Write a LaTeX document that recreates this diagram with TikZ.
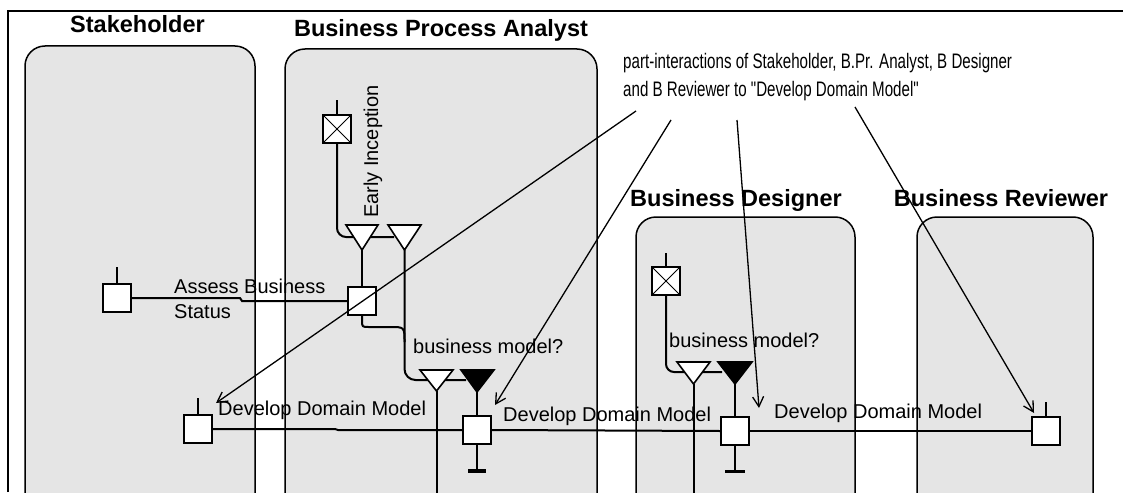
\documentclass[tikz,border=0pt]{standalone}
\usepackage{fontspec}
\setmainfont{Liberation Sans}
\newfontfamily\narrowfont[FakeStretch=0.72]{Liberation Sans}
\usetikzlibrary{arrows.meta}
\begin{document}
\begin{tikzpicture}[x=1pt,y=-1pt,
  lane/.style={draw=black, line width=1.5pt, fill=black!10, rounded corners=20pt},
  lanetitle/.style={font=\fontsize{23.5}{28}\selectfont\bfseries, anchor=base, inner sep=0pt},
  lbl/.style={font=\fontsize{20}{24}\selectfont, anchor=base west, inner sep=0pt},
  notetext/.style={font=\narrowfont\fontsize{21}{26}\selectfont, anchor=base west, inner sep=0pt},
  act/.style={draw, fill=white, line width=1.8pt, minimum size=28pt, inner sep=0pt},
  xact/.style={act, path picture={\draw[line width=1pt]
      (path picture bounding box.south west) -- (path picture bounding box.north east)
      (path picture bounding box.north west) -- (path picture bounding box.south east);}},
  flow/.style={line width=2pt},
  ticker/.style={line width=1.3pt},
  opentri/.style={draw, fill=white, line width=1.6pt, line join=miter},
  filltri/.style={draw, fill=black, line width=1.6pt, line join=miter},
  endbar/.style={line width=3.5pt},
  annot/.style={line width=1.3pt, -{Straight Barb[length=10pt,width=11pt]}}
]
\useasboundingbox (0,0) rectangle (1123,492);
\fill[white] (0,0) rectangle (1123,492);
% frame
\draw[line width=1.5pt] (8,492) -- (8,11) -- (1123,11);
% lanes
\draw[lane] (25,494) -- (25,46) -- (255,46) -- (255,494);
\draw[lane] (285,494) -- (285,49) -- (597,49) -- (597,494);
\draw[lane] (636,494) -- (636,217) -- (855,217) -- (855,494);
\draw[lane] (917,494) -- (917,217) -- (1093,217) -- (1093,494);
% titles
\node[lanetitle] (tS) at (137.5,33) {Stakeholder};
\node[lanetitle] (tP) at (441,37) {Business Process Analyst};
\node[lanetitle] (tD) at (736,206) {Business Designer};
\node[lanetitle] (tR) at (1001,206) {Business Reviewer};

% activity boxes
\node[act] (sA) at (117,298) {};
\node[act] (sD) at (198,429) {};
\node[xact] (pX) at (337,129) {};
\node[act] (pA) at (362,301) {};
\node[act] (pD) at (477,430) {};
\node[xact] (dX) at (666,281) {};
\node[act] (dD) at (735,431) {};
\node[act] (rD) at (1046,431) {};

% ticks above boxes
\coordinate (sAt) at (117,267);
\coordinate (sDt) at (198,398);
\coordinate (pXt) at (337,100);
\coordinate (dXt) at (666,253);
\coordinate (rDt) at (1046,402);
\draw[ticker] (sA.north) -- (sAt);
\draw[ticker] (sD.north) -- (sDt);
\draw[ticker] (pX.north) -- (pXt);
\draw[ticker] (dX.north) -- (dXt);
\draw[ticker] (rD.north) -- (rDt);

% triangle apexes
\coordinate (t1) at (362,250);
\coordinate (t2) at (404.5,250);
\coordinate (t3) at (436.5,391);
\coordinate (t4) at (477,392);
\coordinate (t5) at (693.5,384);
\coordinate (t6) at (735,384);
\coordinate (b3) at (436.5,494);
\coordinate (b5) at (693.5,494);
\coordinate (pDb) at (477,471);
\coordinate (dDb) at (735,471);

% flows
\draw[flow] (sA.east) -- (240,298) -- (242,301) -- (pA.west);
\draw[flow] (sD.east) -- (335,429) -- (338,430) -- (pD.west);
\draw[flow] (pD.east) -- (dD.west);
\draw[flow] (dD.east) -- (rD.west);
\draw[flow, rounded corners=9pt] (pX.south) -- (337,237) -- (394,237);
\draw[flow] (t1) -- (pA.north);
\draw[flow, rounded corners=11pt] (t2) -- (404.5,380) -- (466,380);
\draw[flow] (pA.south) -- (362,320) .. controls (362,327) .. (369,327) -- (390,327) .. controls (404.5,327) .. (404.5,342);
\draw[flow] (t3) -- (b3);
\draw[flow] (t4) -- (pD.north);
\draw[flow] (pD.south) -- (pDb);
\draw[endbar] (468,471) -- (486,471);
\draw[flow, rounded corners=8pt] (dX.south) -- (666,372) -- (722,372);
\draw[flow] (t5) -- (b5);
\draw[line width=1.4pt] (t6) -- (dD.north);
\draw[line width=1.4pt] (dD.south) -- (dDb);
\draw[line width=3pt] (725,471) -- (745,471);

% triangles
\draw[opentri] (346,225) -- (378,225) -- (t1) -- cycle;
\draw[opentri] (388,225) -- (421,225) -- (t2) -- cycle;
\draw[opentri] (420,370) -- (453,370) -- (t3) -- cycle;
\draw[filltri] (461,370) -- (494,370) -- (t4) -- cycle;
\draw[opentri] (677,362) -- (710,362) -- (t5) -- cycle;
\draw[filltri] (718,362) -- (752,362) -- (t6) -- cycle;

% redraw boxes on top
\node[act] at (sA) {};
\node[act] at (pA) {};

% labels
\node[lbl] (lA1) at (174,293) {Assess Business};
\node[lbl] (lA2) at (174,318) {Status};
\node[lbl, rotate=90] (lEI) at (378,218) {Early Inception};
\node[lbl] (lsD) at (218,415) {Develop Domain Model};
\node[lbl] (lpD) at (503,421) {Develop Domain Model};
\node[lbl] (ldD) at (774,418) {Develop Domain Model};
\node[lbl] (lpB) at (413,353) {business model?};
\node[lbl] (ldB) at (669,347) {business model?};

% annotation
\node[notetext] (n1) at (623,69) {part-interactions of Stakeholder, B.Pr. Analyst, B Designer};
\node[notetext] (n2) at (623,97) {and B Reviewer to "Develop Domain Model"};
\coordinate (a1) at (636,111);
\coordinate (a2) at (671,120);
\coordinate (a3) at (737,120);
\coordinate (a4) at (855,107);
\coordinate (e1) at (216,403);
\coordinate (e2) at (495,405);
\coordinate (e3) at (759,408);
\coordinate (e4) at (1034,413);
\draw[annot] (a1) -- (e1);
\draw[annot] (a2) -- (e2);
\draw[annot] (a3) -- (e3);
\draw[annot] (a4) -- (e4);
\end{tikzpicture}
\end{document}
